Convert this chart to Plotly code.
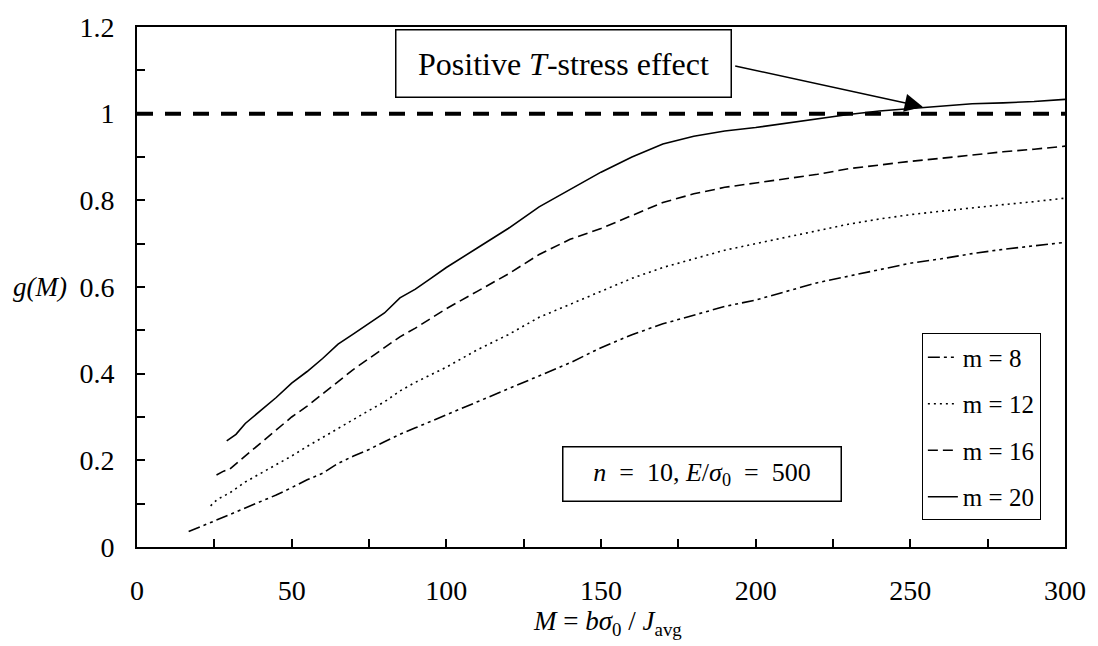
import plotly.graph_objects as go

# ---- data ----
M8 = [16.7, 20, 25, 30, 35, 40, 45, 50, 55, 60, 65, 70, 75, 80, 85, 90, 100, 110, 120, 130, 140,
      150, 160, 170, 180, 190, 200, 210, 220, 230, 240, 250, 260, 270, 280, 290, 300]
g8 = [0.036, 0.045, 0.06, 0.075, 0.09, 0.105, 0.12, 0.137, 0.155, 0.17, 0.193, 0.21, 0.225, 0.243,
      0.26, 0.275, 0.305, 0.335, 0.365, 0.395, 0.425, 0.46, 0.49, 0.515, 0.535, 0.555, 0.57, 0.59,
      0.61, 0.625, 0.64, 0.655, 0.665, 0.677, 0.687, 0.695, 0.703]

M12 = [23.8, 26, 30, 35, 40, 45, 50, 55, 60, 65, 70, 75, 80, 85, 90, 100, 110, 120, 130, 140, 150,
       160, 170, 180, 190, 200, 210, 220, 230, 240, 250, 260, 270, 280, 290, 300]
g12 = [0.095, 0.11, 0.125, 0.15, 0.17, 0.19, 0.21, 0.232, 0.253, 0.275, 0.295, 0.315, 0.335, 0.36,
       0.38, 0.415, 0.455, 0.49, 0.53, 0.56, 0.59, 0.62, 0.645, 0.665, 0.685, 0.70, 0.715, 0.73,
       0.745, 0.757, 0.767, 0.775, 0.783, 0.79, 0.797, 0.805]

M16 = [25.7, 28, 30, 35, 40, 45, 50, 55, 60, 65, 70, 75, 80, 85, 90, 100, 110, 120, 130, 140, 150,
       160, 170, 180, 190, 200, 210, 220, 230, 240, 250, 260, 270, 280, 290, 300]
g16 = [0.166, 0.175, 0.18, 0.21, 0.24, 0.27, 0.30, 0.325, 0.353, 0.382, 0.41, 0.435, 0.46, 0.485,
       0.505, 0.55, 0.59, 0.63, 0.675, 0.71, 0.735, 0.765, 0.795, 0.815, 0.83, 0.84, 0.85, 0.86,
       0.873, 0.882, 0.89, 0.897, 0.905, 0.912, 0.918, 0.925]

M20 = [29, 32, 35, 40, 45, 50, 55, 60, 65, 70, 75, 80, 85, 90, 95, 100, 110, 120, 130, 140, 150,
       160, 170, 180, 190, 200, 210, 220, 230, 240, 250, 260, 270, 280, 290, 300]
g20 = [0.245, 0.26, 0.285, 0.315, 0.345, 0.378, 0.405, 0.435, 0.468, 0.492, 0.515, 0.54, 0.575,
       0.595, 0.62, 0.645, 0.69, 0.735, 0.785, 0.825, 0.865, 0.9, 0.93, 0.948, 0.96, 0.968, 0.978,
       0.988, 0.998, 1.006, 1.012, 1.018, 1.023, 1.025, 1.028, 1.033]

ref_M = [0, 300]
ref_g = [1, 1]

x_ticks = [0, 50, 100, 150, 200, 250, 300]
y_ticks = [0, 0.2, 0.4, 0.6, 0.8, 1.0, 1.2]
y_tick_text = ["0", "0.2", "0.4", "0.6", "0.8", "1", "1.2"]

FONT = "Liberation Serif"
NB = "\u00a0"

fig = go.Figure()

fig.add_trace(go.Scatter(x=ref_M, y=ref_g, mode="lines", showlegend=False,
                         line=dict(color="black", width=4, dash="16px,12px")))

series = [
    ("m" + NB + "=" + NB + "8", M8, g8, "12px,4px,3px,4px,3px,4px"),
    ("m" + NB + "=" + NB + "12", M12, g12, "2px,4px"),
    ("m" + NB + "=" + NB + "16", M16, g16, "10px,5px"),
    ("m" + NB + "=" + NB + "20", M20, g20, "solid"),
]
for i, (name, xs, ys, dash) in enumerate(series):
    fig.add_trace(go.Scatter(x=xs, y=ys, mode="lines", name=name, legendgroup=f"g{i}",
                             line=dict(color="black", width=1.6, dash=dash)))

fig.update_layout(
    width=1098, height=646,
    margin=dict(l=137, r=26, t=19, b=99),
    paper_bgcolor="white", plot_bgcolor="white",
    font=dict(family=FONT, color="black", size=28),
    legend=dict(
        x=0.974, y=0.051, xanchor="right", yanchor="bottom",
        bgcolor="white", bordercolor="black", borderwidth=1,
        font=dict(family=FONT, size=25),
        traceorder="grouped", tracegroupgap=11,
    ),
)

fig.update_xaxes(
    range=[0, 300], tickvals=x_ticks, ticks="inside", ticklen=8, tickwidth=1.5,
    tickcolor="black", showline=True, linecolor="black", linewidth=2, mirror=True,
    showgrid=False, zeroline=False, ticklabelstandoff=17,
    tickfont=dict(family=FONT, size=28),
    minor=dict(dtick=25, tick0=0, ticks="inside", ticklen=8, tickwidth=1.5, tickcolor="black",
               showgrid=False),
)
fig.update_yaxes(
    range=[0, 1.2], tickvals=y_ticks, ticktext=y_tick_text, ticks="inside", ticklen=8,
    tickwidth=1.5, tickcolor="black", showline=True, linecolor="black", linewidth=2,
    mirror=True, showgrid=False, zeroline=False, ticklabelstandoff=15,
    tickfont=dict(family=FONT, size=28),
    minor=dict(dtick=0.1, tick0=0, ticks="inside", ticklen=8, tickwidth=1.5, tickcolor="black",
               showgrid=False),
)

# Positive T-stress effect callout: box
fig.add_annotation(
    x=137.8, y=1.116, xref="x", yref="y",
    text="Positive <i>T</i>-stress effect",
    font=dict(family=FONT, size=32),
    showarrow=False,
    bordercolor="black", borderwidth=1.5, bgcolor="white",
    width=334, height=66, borderpad=0, align="center", valign="middle",
)
# callout arrow
fig.add_annotation(
    x=254, y=1.016, xref="x", yref="y",
    ax=192.9, ay=1.111, axref="x", ayref="y",
    text="", showarrow=True, arrowhead=2, arrowsize=2.4, arrowwidth=1.5,
    arrowcolor="black", standoff=0,
)

# parameter box
fig.add_annotation(
    x=182.6, y=0.168, xref="x", yref="y",
    text=("<i>n</i> " + NB + "= " + NB + "10, <i>E</i>/<i>σ</i><sub>0</sub> " + NB + "= "
          + NB + "500"),
    font=dict(family=FONT, size=26),
    showarrow=False, bordercolor="black", borderwidth=1.5, bgcolor="white",
    width=277, height=53, borderpad=0, align="center", valign="middle",
)

# axis titles
fig.add_annotation(
    x=0.507, y=-0.146, xref="paper", yref="paper", xanchor="center", yanchor="middle",
    text="<i>M</i> = <i>bσ</i><sub>0</sub> / <i>J</i><sub>avg</sub>",
    font=dict(family=FONT, size=27), showarrow=False,
)
fig.add_annotation(
    x=-0.0738, y=0.6, xref="paper", yref="y", xanchor="right", yanchor="middle",
    text="<i>g(M)</i>", font=dict(family=FONT, size=27), showarrow=False,
)

fig.write_html("out.html")
